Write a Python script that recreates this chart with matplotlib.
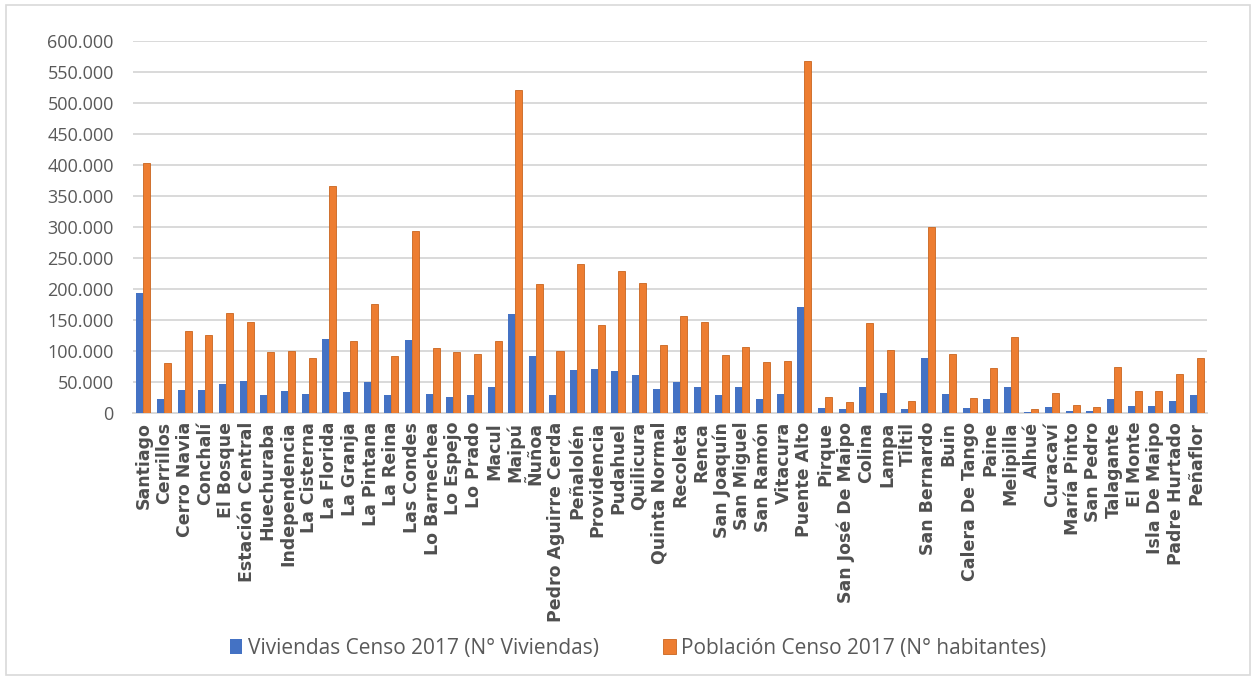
import numpy as np
import matplotlib
matplotlib.use("Agg")
import matplotlib.pyplot as plt
from matplotlib.ticker import FuncFormatter
from matplotlib.patches import Rectangle

comunas = ["Santiago", "Cerrillos", "Cerro Navia", "Conchalí", "El Bosque",
           "Estación Central", "Huechuraba", "Independencia", "La Cisterna",
           "La Florida", "La Granja", "La Pintana", "La Reina", "Las Condes",
           "Lo Barnechea", "Lo Espejo", "Lo Prado", "Macul", "Maipú", "Ñuñoa",
           "Pedro Aguirre Cerda", "Peñalolén", "Providencia", "Pudahuel",
           "Quilicura", "Quinta Normal", "Recoleta", "Renca", "San Joaquín",
           "San Miguel", "San Ramón", "Vitacura", "Puente Alto", "Pirque",
           "San José De Maipo", "Colina", "Lampa", "Tiltil", "San Bernardo",
           "Buin", "Calera De Tango", "Paine", "Melipilla", "Alhué", "Curacaví",
           "María Pinto", "San Pedro", "Talagante", "El Monte", "Isla De Maipo",
           "Padre Hurtado", "Peñaflor"]

viviendas = [193628, 24000, 38000, 38000, 48000, 53000, 29000, 36000, 32000,
             120000, 35000, 50000, 30000, 118000, 32000, 27000, 30000, 42000,
             161000, 92000, 30000, 70000, 71000, 68000, 62000, 39000, 50000,
             43000, 30000, 42000, 23000, 32000, 171000, 9000, 7000, 42000,
             33000, 7000, 90000, 31000, 8000, 24000, 43000, 2500, 11000, 4500,
             3500, 23000, 12000, 12000, 20000, 29000]

poblacion = [404495, 80832, 132622, 126955, 162505, 147041, 98671, 100281,
             90119, 366916, 116571, 177335, 92787, 294838, 105833, 98804,
             96249, 116534, 521627, 208237, 101174, 241599, 142079, 230293,
             210410, 110026, 157851, 147151, 94492, 107954, 82900, 85384,
             568106, 26521, 18189, 146207, 102034, 19312, 301313, 96614,
             25392, 72759, 123627, 6444, 32579, 13590, 9726, 74237, 35923,
             36219, 63250, 90201]

y_ticks = np.arange(0, 600001, 50000)

plt.rcParams['font.family'] = ['Open Sans', 'DejaVu Sans']

fig = plt.figure(figsize=(12.56, 6.8), dpi=100)
ax = fig.add_axes([0.106, 0.392, 0.855, 0.547])

x = np.arange(len(comunas))
w = 0.34
ax.bar(x - w/2, viviendas, w, color='#4472C4', label='Viviendas Censo 2017 (N° Viviendas)', zorder=3)
ax.bar(x + w/2, poblacion, w, color='#ED7D31', edgecolor='#C9651F', linewidth=0.6,
       label='Población Censo 2017 (N° habitantes)', zorder=3)

ax.set_ylim(0, 600000)
ax.set_xlim(-0.5, len(comunas) - 0.5)
ax.set_yticks(y_ticks)
ax.yaxis.set_major_formatter(FuncFormatter(lambda v, p: f"{int(v):,}".replace(",", ".")))
ax.grid(axis='y', color='#D9D9D9', linewidth=1.4, zorder=0)
for s in ['top', 'right', 'left']:
    ax.spines[s].set_visible(False)
ax.spines['bottom'].set_color('#D9D9D9')
ax.spines['bottom'].set_linewidth(1.4)
ax.tick_params(axis='both', length=0)
ax.tick_params(axis='y', labelsize=13, labelcolor='#595959', pad=14)
ax.set_xticks(x)
ax.set_xticklabels(comunas, rotation=90, fontsize=12.5, fontweight='bold', color='#4f4f4f',
                   family=['DejaVu Sans'])
ax.tick_params(axis='x', pad=6)

fig.legend(loc='center', bbox_to_anchor=(0.508, 0.047), ncol=2, frameon=False,
           fontsize=15, handlelength=0.6, handleheight=0.7, handletextpad=0.25,
           columnspacing=3.1, labelcolor='#595959')

fig.patches.append(Rectangle((0.005, 0.007), 0.99, 0.985, transform=fig.transFigure,
                             fill=False, edgecolor='#D9D9D9', linewidth=1.2))

fig.savefig("out.png", dpi=100)
